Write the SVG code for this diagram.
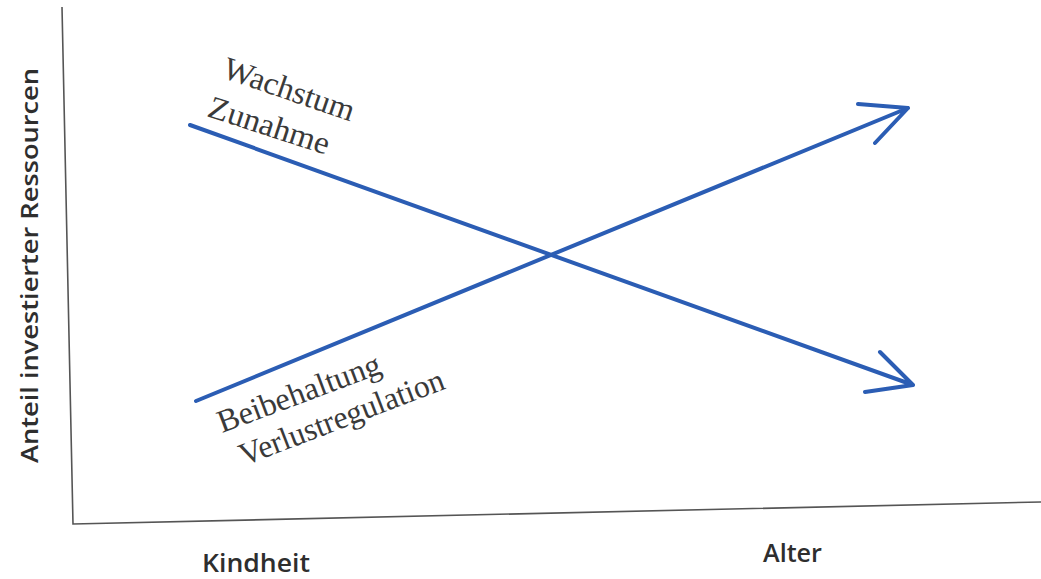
<svg xmlns="http://www.w3.org/2000/svg" width="1041" height="579" viewBox="0 0 1041 579">
  <style>
    .axis { stroke: #555; stroke-width: 1.6; fill: none; }
    .curve { stroke: #2b5db4; stroke-width: 4; fill: none; stroke-linecap: round; stroke-linejoin: round; }
    .serif { font-family: "Liberation Serif", "Times New Roman", serif; font-size: 32px; fill: #3a3a3a; }
    .sans { font-family: "Open Sans", "DejaVu Sans", sans-serif; font-weight: 600; fill: #2e2e2e; }
  </style>
  <rect width="1041" height="579" fill="#ffffff"/>
  <g id="axes">
    <polyline class="axis" points="62,7 73,524 1041,502"/>
  </g>
  <g id="connectors">
    <path class="curve" d="M190,125 L913,385 M880,352 L913,385 L865,392"/>
    <path class="curve" d="M196,401 L908,108 M858,104 L908,108 L875,143"/>
  </g>
  <g id="label-wachstum">
    <text class="serif" transform="translate(221,77) rotate(19)" textLength="137" lengthAdjust="spacingAndGlyphs">Wachstum</text>
  </g>
  <g id="label-zunahme">
    <text class="serif" transform="translate(206,116) rotate(18)" textLength="126" lengthAdjust="spacingAndGlyphs">Zunahme</text>
  </g>
  <g id="label-beibehaltung">
    <text class="serif" transform="translate(222,433) rotate(-20.5)" textLength="172" lengthAdjust="spacingAndGlyphs">Beibehaltung</text>
  </g>
  <g id="label-verlust">
    <text class="serif" transform="translate(244,466) rotate(-21)" textLength="217" lengthAdjust="spacingAndGlyphs">Verlustregulation</text>
  </g>
  <g id="y-label">
    <text class="sans" font-size="24" transform="translate(38,463) rotate(-90)" textLength="395" lengthAdjust="spacingAndGlyphs">Anteil investierter Ressourcen</text>
  </g>
  <g id="x-label-kindheit">
    <text class="sans" font-size="26" x="202" y="572" textLength="108" lengthAdjust="spacingAndGlyphs">Kindheit</text>
  </g>
  <g id="x-label-alter">
    <text class="sans" font-size="25" x="763" y="562" textLength="59" lengthAdjust="spacingAndGlyphs">Alter</text>
  </g>
</svg>
